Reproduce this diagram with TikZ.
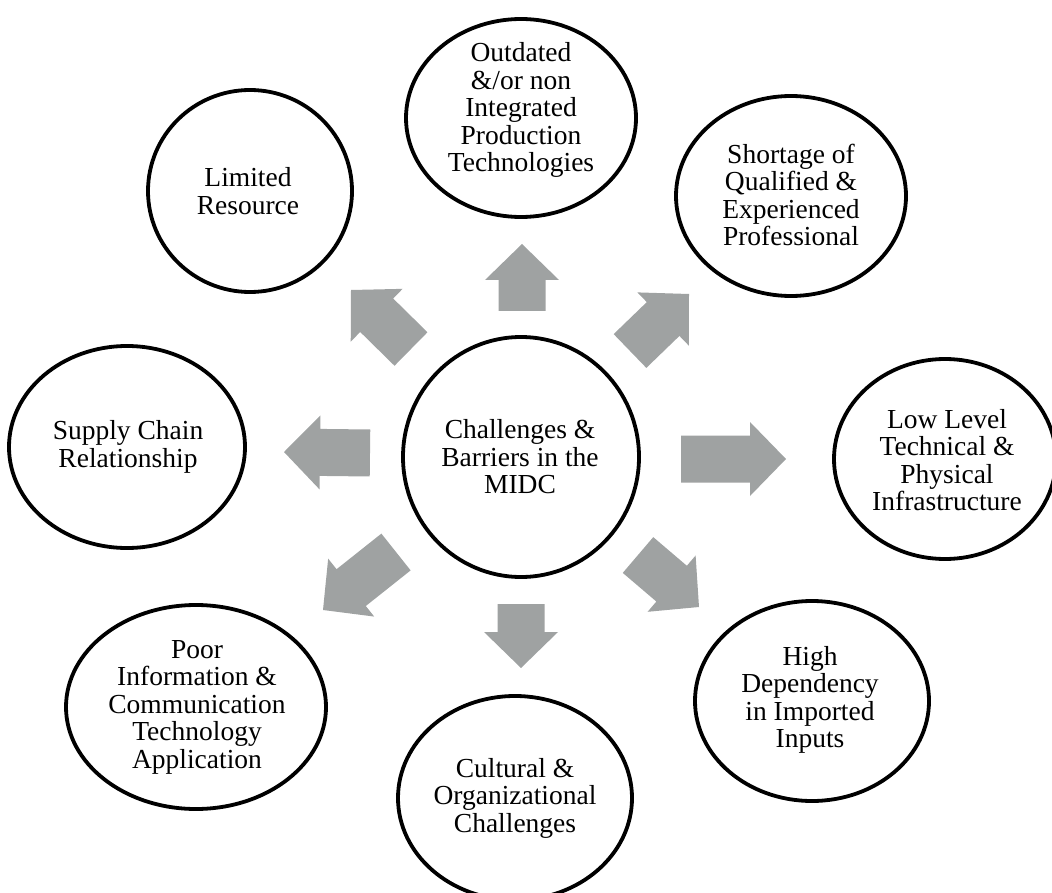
\documentclass[tikz,border=0pt]{standalone}
\usepackage{fontspec}
\setmainfont{Liberation Serif}
\usetikzlibrary{shapes.geometric,calc}
\definecolor{arrowgray}{RGB}{159,162,162}

% Block arrow from a tail point to a tip point
\newcommand\blockarrow[2]{%
  \coordinate (#1-h) at ($(#2)!36pt!(#1)$);
  \fill[arrowgray]
    ($(#1)!23.5pt!90:(#2)$) -- ($(#1-h)!23.5pt!90:(#2)$) --
    ($(#1-h)!37pt!90:(#2)$) -- (#2) -- ($(#1-h)!37pt!-90:(#2)$) --
    ($(#1-h)!23.5pt!-90:(#2)$) -- ($(#1)!23.5pt!-90:(#2)$) -- cycle;
}

\begin{document}
\begin{tikzpicture}[x=1pt,y=-1pt,
  bubble/.style={draw=black, line width=3.8pt, ellipse, inner sep=0pt},
  caption/.style={align=center, inner sep=0pt,
    font=\fontsize{27.5}{27.5}\selectfont}]
\useasboundingbox (0,0) rectangle (1052,893);

% centre
\node[bubble, minimum width=236pt, minimum height=240pt] (midc) at (521,457) {};
\node[caption] (midc-t) at (520,457) {Challenges \&\\Barriers in the\\MIDC};

% surrounding factors
\node[bubble, minimum width=230pt, minimum height=198pt] (tech) at (521,118) {};
\node[caption] (tech-t) at (521,110) {Outdated\\\&/or non\\Integrated\\Production\\Technologies};

\node[bubble, minimum width=204pt, minimum height=202pt] (res) at (250,191) {};
\node[caption] (res-t) at (248,191) {Limited\\Resource};

\node[bubble, minimum width=230pt, minimum height=200pt] (prof) at (791,196) {};
\node[caption] (prof-t) at (791,195) {Shortage of\\Qualified \&\\Experienced\\Professional};

\node[bubble, minimum width=236pt, minimum height=202pt] (supply) at (127,447) {};
\node[caption] (supply-t) at (128,447) {Supply Chain\\Relationship};

\node[bubble, minimum width=222pt, minimum height=200pt] (infra) at (945,459) {};
\node[caption] (infra-t) at (947,460) {Low Level\\Technical \&\\Physical\\Infrastructure};

\node[bubble, minimum width=260pt, minimum height=204pt] (ict) at (196,707) {};
\node[caption] (ict-t) at (197,707) {Poor\\Information \&\\Communication\\Technology\\Application};

\node[bubble, minimum width=234pt, minimum height=204pt] (culture) at (515,798) {};
\node[caption] (culture-t) at (515,798) {Cultural \&\\Organizational\\Challenges};

\node[bubble, minimum width=234pt, minimum height=200pt] (import) at (812,701) {};
\node[caption] (import-t) at (810,700) {High\\Dependency\\in Imported\\Inputs};

% arrow tails and tips
\coordinate (aN)  at (522,311); \coordinate (aN-tip)  at (522,244);
\coordinate (aS)  at (521,604); \coordinate (aS-tip)  at (521,668);
\coordinate (aW)  at (370,453); \coordinate (aW-tip)  at (284,452);
\coordinate (aE)  at (681,459); \coordinate (aE-tip)  at (786,459);
\coordinate (aNW) at (411,349); \coordinate (aNW-tip) at (351,290);
\coordinate (aNE) at (630,351); \coordinate (aNE-tip) at (689,294);
\coordinate (aSE) at (638,555); \coordinate (aSE-tip) at (699,607);
\coordinate (aSW) at (396,552); \coordinate (aSW-tip) at (323,610);

\blockarrow{aN}{aN-tip}
\blockarrow{aS}{aS-tip}
\blockarrow{aW}{aW-tip}
\blockarrow{aE}{aE-tip}
\blockarrow{aNW}{aNW-tip}
\blockarrow{aNE}{aNE-tip}
\blockarrow{aSE}{aSE-tip}
\blockarrow{aSW}{aSW-tip}
\end{tikzpicture}
\end{document}
